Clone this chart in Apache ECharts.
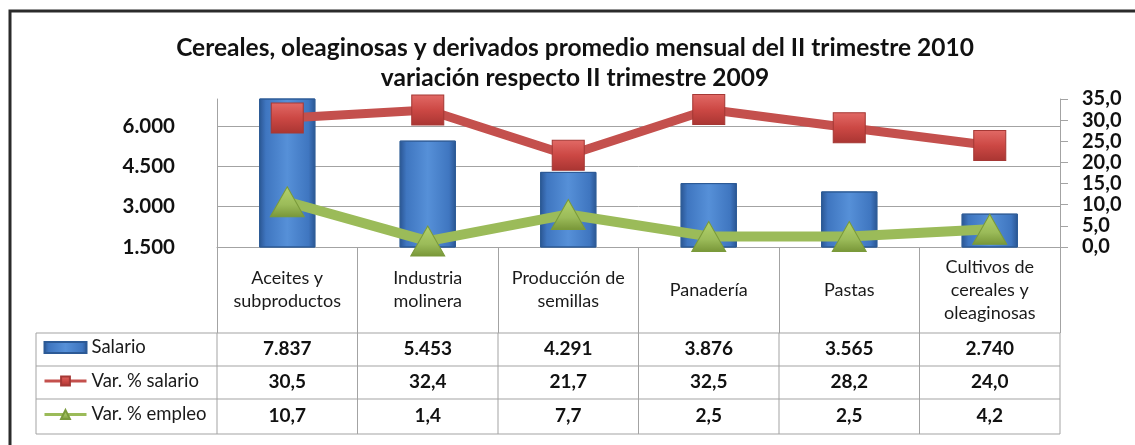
<!DOCTYPE html>
<html>
<head>
<meta charset="utf-8">
<script src="https://cdn.jsdelivr.net/npm/echarts@6/dist/echarts.min.js"></script>
<style>
html, body { margin: 0; padding: 0; background: #fff; }
#chart { width: 1135px; height: 445px; }
</style>
</head>
<body>
<div id="chart"></div>
<script>
// datos del gráfico
var categories = ['Aceites y\nsubproductos', 'Industria\nmolinera', 'Producción de\nsemillas', 'Panadería', 'Pastas', 'Cultivos de\ncereales y\noleaginosas']
var salario = [7837, 5453, 4291, 3876, 3565, 2740]
var varSalario = [30.5, 32.4, 21.7, 32.5, 28.2, 24.0]
var varEmpleo = [10.7, 1.4, 7.7, 2.5, 2.5, 4.2]
var seriesNames = ['Salario', 'Var. % salario', 'Var. % empleo']
var titleText = 'Cereales, oleaginosas y derivados promedio mensual del II trimestre 2010\nvariación respecto II trimestre 2009'

var font = 'Lato, "Open Sans", sans-serif'
var gridColor = '#a3a3a3'

// 7837 -> "7.837"
function fmtMiles (v) {
    return String(v).replace(/\B(?=(\d{3})+(?!\d))/g, '.')
}
// 30.5 -> "30,5"
function fmtDec (v) {
    return v.toFixed(1).replace('.', ',')
}

var chart = echarts.init(document.getElementById('chart'))

var barColor = new echarts.graphic.LinearGradient(0, 0, 1, 0, [
    { offset: 0, color: '#2a5592' },
    { offset: 0.12, color: '#3f76c0' },
    { offset: 0.5, color: '#5690d8' },
    { offset: 0.88, color: '#3f76c0' },
    { offset: 1, color: '#2a5592' }
])
var redFill = new echarts.graphic.LinearGradient(0, 0, 0, 1, [
    { offset: 0, color: '#e26a66' },
    { offset: 0.5, color: '#cc4844' },
    { offset: 1, color: '#a93532' }
])
var greenFill = new echarts.graphic.LinearGradient(0, 0, 0, 1, [
    { offset: 0, color: '#b4d36c' },
    { offset: 0.6, color: '#9bbb59' },
    { offset: 1, color: '#789638' }
])

var option = {
    animation: false,
    backgroundColor: '#fff',
    title: {
        text: titleText,
        left: 570,
        top: 28,
        textAlign: 'center',
        textStyle: {
            fontFamily: font,
            fontSize: 24.5,
            fontWeight: 'bold',
            lineHeight: 30,
            color: '#111'
        }
    },
    // leyenda dentro de la tabla
    legend: {
        orient: 'vertical',
        left: 43,
        top: 338,
        padding: 0,
        itemWidth: 42,
        itemHeight: 11,
        itemGap: 14.5,
        selectedMode: false,
        lineStyle: { width: 3 },
        textStyle: {
            fontFamily: font,
            fontSize: 18.5,
            lineHeight: 19,
            color: '#1a1a1a'
        },
        data: [
            { name: seriesNames[0], icon: 'rect' },
            { name: seriesNames[1] },
            { name: seriesNames[2] }
        ]
    },
    grid: {
        left: 217,
        right: 75,
        top: 99,
        bottom: 198
    },
    xAxis: {
        type: 'category',
        data: categories,
        axisLine: { lineStyle: { color: gridColor } },
        axisTick: {
            show: true,
            interval: 0,
            length: 86,
            lineStyle: { color: gridColor }
        },
        axisLabel: {
            interval: 0,
            margin: 43,
            verticalAlign: 'middle',
            fontFamily: font,
            fontSize: 18,
            lineHeight: 23,
            color: '#1a1a1a'
        }
    },
    yAxis: [{
        type: 'value',
        min: 1500,
        max: 7000,
        interval: 1500,
        axisLine: { show: true, lineStyle: { color: gridColor } },
        axisTick: { show: false },
        axisLabel: {
            margin: 42,
            showMaxLabel: false,
            formatter: fmtMiles,
            fontFamily: font,
            fontSize: 20.5,
            fontWeight: 'bold',
            color: '#111'
        },
        splitLine: {
            show: true,
            showMaxLine: false,
            showMinLine: false,
            lineStyle: { color: gridColor }
        }
    }, {
        type: 'value',
        position: 'right',
        min: 0,
        max: 35,
        interval: 5,
        axisLine: { show: true, lineStyle: { color: gridColor } },
        axisTick: { show: true, inside: false, length: 8, lineStyle: { color: gridColor } },
        axisLabel: {
            margin: 22,
            formatter: fmtDec,
            fontFamily: font,
            fontSize: 20,
            lineHeight: 20,
            fontWeight: 'bold',
            color: '#111'
        },
        splitLine: { show: false }
    }],
    series: [{
        name: seriesNames[0],
        type: 'bar',
        yAxisIndex: 0,
        data: salario,
        barWidth: '40%',
        clip: true,
        itemStyle: {
            color: barColor,
            borderColor: '#2c5a96',
            borderWidth: 1
        }
    }, {
        name: seriesNames[1],
        type: 'line',
        yAxisIndex: 1,
        data: varSalario,
        symbol: 'rect',
        symbolSize: [32, 30],
        z: 3,
        lineStyle: { color: '#c4504d', width: 9 },
        itemStyle: { color: redFill, borderColor: '#a53835', borderWidth: 1 }
    }, {
        name: seriesNames[2],
        type: 'line',
        yAxisIndex: 1,
        data: varEmpleo,
        symbol: 'triangle',
        symbolSize: [34, 30],
        z: 4,
        lineStyle: { color: '#9bbb59', width: 10 },
        itemStyle: { color: greenFill, borderColor: '#7a9a3a', borderWidth: 1 }
    }]
}

chart.setOption(option)

// tabla de datos bajo el eje, alineada con las categorías
function buildTable () {
    var rowsY = [333, 366, 399, 434]
    var tableLeft = 36
    var c0 = chart.convertToPixel({ xAxisIndex: 0 }, 0)
    var c1 = chart.convertToPixel({ xAxisIndex: 0 }, 1)
    var bw = c1 - c0
    var centers = categories.map(function (c, i) {
        return chart.convertToPixel({ xAxisIndex: 0 }, i)
    })
    var tableRight = centers[centers.length - 1] + bw / 2
    var lineStyle = { stroke: gridColor, lineWidth: 1 }
    var els = []

    // marco exterior (solo borde superior e izquierdo visibles)
    els.push({
        type: 'polyline',
        shape: { points: [[10, 460], [10, 11], [1150, 11]] },
        style: { fill: null, stroke: '#2b2b2b', lineWidth: 3 },
        silent: true
    })
    rowsY.forEach(function (y) {
        els.push({ type: 'line', shape: { x1: tableLeft, y1: y, x2: tableRight, y2: y }, style: lineStyle, silent: true })
    })
    var xs = [tableLeft].concat(centers.map(function (c) { return c - bw / 2 }), [tableRight])
    xs.forEach(function (x) {
        els.push({ type: 'line', shape: { x1: x, y1: rowsY[0], x2: x, y2: rowsY[3] }, style: lineStyle, silent: true })
    })

    var rows = [salario.map(fmtMiles), varSalario.map(fmtDec), varEmpleo.map(fmtDec)]
    rows.forEach(function (row, r) {
        var yMid = (rowsY[r] + rowsY[r + 1]) / 2 - 1
        row.forEach(function (txt, i) {
            els.push({
                type: 'text',
                x: centers[i],
                y: yMid,
                silent: true,
                style: {
                    text: txt,
                    align: 'center',
                    verticalAlign: 'middle',
                    font: 'bold 19px ' + font,
                    fill: '#111'
                }
            })
        })
    })
    chart.setOption({ graphic: els })
}
buildTable()
</script>
</body>
</html>
